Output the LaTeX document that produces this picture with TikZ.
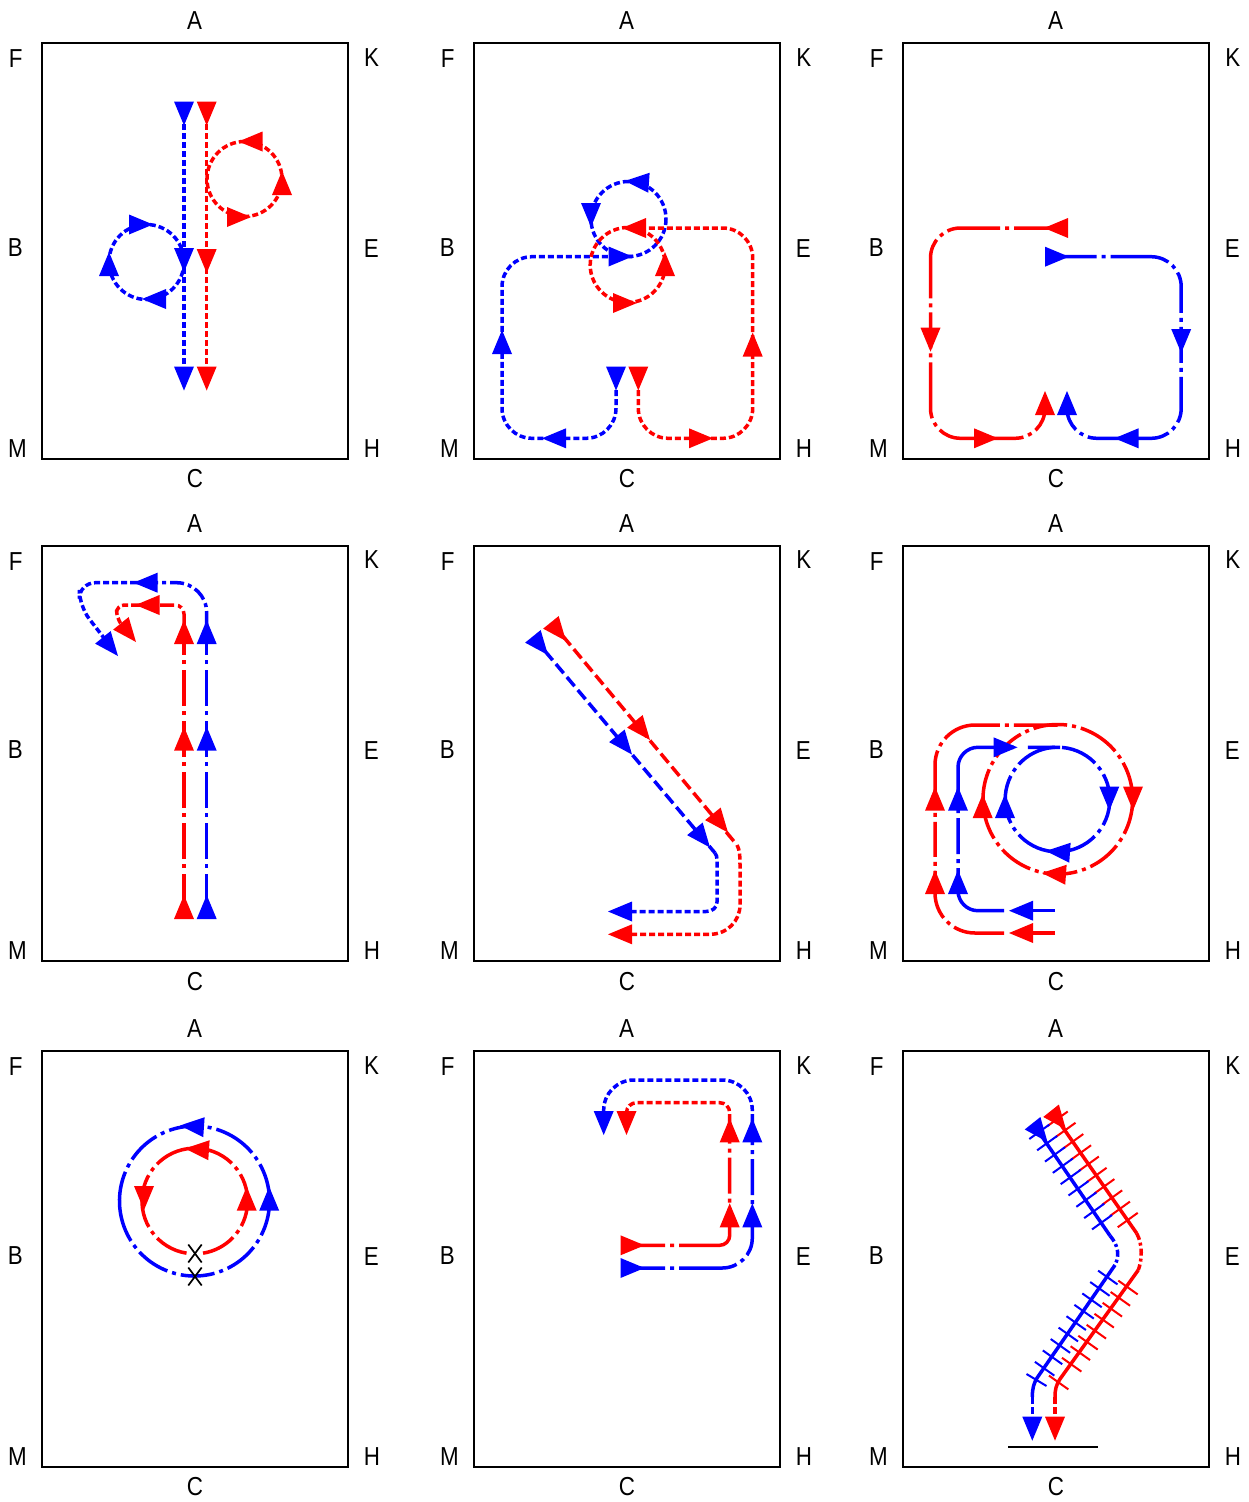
\documentclass[tikz,border=0pt]{standalone}
\usepackage{fontspec}
\setmainfont[FakeStretch=0.86]{Liberation Sans}
\newcommand{\panelframe}[3]{%
  \draw[frameline] (#2,#3) rectangle ++(306.3,415.4);
  \node[lab] (#1A) at (#2+152.5,#3-22.6) {A};
  \node[lab] (#1C) at (#2+153,#3+435.7) {C};
  \node[lab] (#1F) at (#2-26.3,#3+15.4) {F};
  \node[lab] (#1K) at (#2+329.7,#3+14) {K};
  \node[lab] (#1B) at (#2-26.7,#3+204) {B};
  \node[lab] (#1E) at (#2+329.3,#3+205) {E};
  \node[lab] (#1M) at (#2-24.5,#3+405) {M};
  \node[lab] (#1H) at (#2+330,#3+405) {H};
}
\newcommand{\tipat}[4]{\fill[#1,shift={(#2,#3)},rotate=#4] (0,0) -- (-24,10) -- (-24,-10) -- cycle;}
\tikzset{
  frameline/.style={draw=black,line width=2pt},
  lab/.style={inner sep=0pt,font=\fontsize{26}{26}\selectfont,text=black},
  dots/.style={line width=3.5pt,dash pattern=on 6pt off 3pt},
  dashy/.style={line width=3.5pt,dash pattern=on 12pt off 5pt},
  chainline/.style={line width=3.5pt,dash pattern=on 36pt off 5.5pt on 4pt off 5.5pt},
  shortchain/.style={line width=3.5pt,dash pattern=on 14pt off 4pt on 4pt off 4pt},
  full/.style={line width=3.5pt},
  fine/.style={line width=3.5pt,dash pattern=on 7pt off 3pt on 3pt off 3pt},
  finer/.style={line width=3.5pt,dash pattern=on 7pt off 3pt},
  bigring/.style={line width=3.5pt,dash pattern=on 34pt off 5pt on 4pt off 5pt on 74pt off 5pt on 4pt off 5pt on 34pt off 5pt on 4pt off 5pt on 34pt off 5pt on 4pt off 5pt on 34pt off 5pt on 4pt off 5pt on 72pt off 5pt on 4pt off 5pt on 34pt off 5pt on 4pt off 5pt on 34pt off 5pt on 4pt off 5pt},
  hatch/.style={line width=2pt},
  crossmark/.style={line width=1.7pt,draw=black},
  bl/.style={draw=blue},
  rd/.style={draw=red},
}
\begin{document}
\begin{tikzpicture}[x=1pt,y=-1pt]
\useasboundingbox (0,0) rectangle (1249,1502);
\fill[white] (0,0) rectangle (1249,1502);
\panelframe{a}{42}{43.3}
\panelframe{b}{474}{43.3}
\panelframe{c}{903}{43.3}
\panelframe{d}{42}{545.7}
\panelframe{e}{474}{545.7}
\panelframe{f}{903}{545.7}
\panelframe{g}{42}{1051.3}
\panelframe{h}{474}{1051.3}
\panelframe{i}{903}{1051.3}

% ---- panel a
\draw[dots,bl] (184,124) -- (184,366);
\draw[dots,rd] (206.7,124) -- (206.7,366);
\draw[dots,bl] (146.5,262) circle[radius=37.5];
\draw[dots,rd] (244.5,179) circle[radius=37.5];
\tipat{blue}{184}{125.5}{-90}\tipat{blue}{184}{272}{-90}\tipat{blue}{184}{390.5}{-90}
\tipat{red}{206.7}{125.5}{-90}\tipat{red}{206.7}{273}{-90}\tipat{red}{206.7}{390.5}{-90}
\tipat{blue}{153}{224.5}{0}\tipat{blue}{142}{299}{180}\tipat{blue}{109}{252}{90}
\tipat{red}{238.5}{141.5}{180}\tipat{red}{251}{217}{0}\tipat{red}{282}{171}{90}

% ---- panel b
\draw[dots,bl,rounded corners=30pt] (616,390) -- (616,438.3) -- (502,438.3) -- (502,256.7) -- (632,256.7);
\draw[dots,bl] (628.5,219) circle[radius=37.5];
\draw[dots,rd,rounded corners=30pt] (638.3,390) -- (638.3,438.3) -- (752.7,438.3) -- (752.7,228) -- (640,228);
\draw[dots,rd] (627.7,265) circle[radius=37.5];
\tipat{blue}{616}{390.5}{-90}\tipat{red}{638.3}{390.5}{-90}
\tipat{blue}{542}{438.3}{180}\tipat{red}{713}{438.3}{0}
\tipat{blue}{502}{330}{90}\tipat{red}{752.7}{332.5}{90}
\tipat{blue}{632.5}{256.5}{0}\tipat{red}{622}{228}{180}
\tipat{blue}{625}{181}{176}\tipat{blue}{591}{227}{-90}
\tipat{red}{665}{252}{90}\tipat{red}{637}{303}{0}

% ---- panel c
\draw[full,rd,dash pattern=on 52pt off 5pt on 4pt off 5pt on 53pt off 5pt on 4pt off 5pt on 60pt off 5pt on 4pt off 5pt on 36pt off 5pt on 4pt off 5pt on 56pt off 5pt on 4pt off 5pt on 86pt off 5pt on 4pt off 5pt on 90pt off 5pt,rounded corners=30pt] (1066,228) -- (930.5,228) -- (930.5,438.3) -- (1045,438.3) -- (1045,395);
\draw[full,bl,dash pattern=on 50.5pt off 5pt on 4pt off 5pt on 59pt off 5pt on 4pt off 5pt on 41pt off 5pt on 4pt off 5pt on 36pt off 5pt on 4pt off 5pt on 46pt off 5pt on 4pt off 5pt on 82pt off 5pt on 4pt off 5pt on 90pt off 5pt,rounded corners=30pt] (1046,256.7) -- (1181.2,256.7) -- (1181.2,438.3) -- (1067,438.3) -- (1067,395);
\tipat{red}{1044}{228}{180}\tipat{red}{930.5}{351.7}{-90}\tipat{red}{998}{438.3}{0}\tipat{red}{1045}{391}{90}
\tipat{blue}{1069}{256.7}{0}\tipat{blue}{1181.2}{353}{-90}\tipat{blue}{1114.5}{438.3}{180}\tipat{blue}{1067}{391}{90}

% ---- panel d
\draw[chainline,rd,dash phase=44pt] (184,916.7) -- (184,625);
\draw[chainline,bl,dash phase=44pt] (206.7,916.7) -- (206.7,625);
\draw[shortchain,rd,rounded corners=9pt] (184,625) -- (184,605) -- (137,605);
\draw[shortchain,bl,rounded corners=30pt] (206.7,625) -- (206.7,582.7) -- (136,582.7);
\draw[dots,rd,rounded corners=8pt] (137,605) -- (116.5,605) -- (116.5,618) -- (121,624);
\draw[dots,bl,rounded corners=16pt] (136,582.7) -- (79.3,582.7) -- (79.3,606) -- (104,638);
\tipat{red}{184}{895}{90}\tipat{red}{184}{726.7}{90}\tipat{red}{184}{620}{90}
\tipat{blue}{206.7}{895}{90}\tipat{blue}{206.7}{726.7}{90}\tipat{blue}{206.7}{620}{90}
\tipat{red}{135.5}{605}{180}\tipat{blue}{133.5}{582.7}{180}
\tipat{red}{136}{642}{-51}\tipat{blue}{118}{656}{-51}

% ---- panel e
\draw[dashy,rd] (552,623) -- (737,845);
\draw[dashy,bl] (534,638) -- (715,853);
\draw[dots,rd] (737,845) .. controls (739.5,849) and (740,856) .. (740,865) -- (740,905) .. controls (740,921) and (727,934.3) .. (710,934.3) -- (632,934.3);
\draw[dots,bl] (715,853) .. controls (716.5,855) and (717,857) .. (717,860) -- (717,902) .. controls (717,908) and (712,911.5) .. (706,911.5) -- (632,911.5);
\tipat{red}{566}{641}{-51}\tipat{red}{650}{740}{-51}\tipat{red}{728}{832.5}{-51}
\tipat{blue}{548}{655}{-51}\tipat{blue}{632}{754.5}{-51}\tipat{blue}{710}{847.5}{-51}
\tipat{red}{608}{934.3}{180}\tipat{blue}{608}{911.5}{180}

% ---- panel f
\draw[full,bl] (1055,910.7) -- (1030,910.7);
\draw[full,rd] (1055,933) -- (1030,933);
\draw[full,bl,dash pattern=on 80pt off 5pt on 4pt off 5pt on 36pt off 5pt on 4pt off 5pt on 104pt off 14pt on 50pt off 5pt,rounded corners=20pt] (1004,910.7) -- (958,910.7) -- (958,747.3) -- (1060,747.3);
\draw[full,rd,dash pattern=on 51pt off 5pt on 4pt off 5pt on 49pt off 5pt on 4pt off 5pt on 35pt off 5pt on 4pt off 5pt on 57.5pt off 5pt on 4pt off 5pt on 59pt off 5pt on 4pt off 5pt on 60pt off 5pt,rounded corners=40pt] (1004,933) -- (935,933) -- (935,725) -- (1057.5,725);
\draw[full,bl,dash pattern=on 37.3pt off 5pt on 4pt off 5pt on 53pt off 5pt on 4pt off 5pt on 85pt off 5pt on 4pt off 5pt on 49pt off 5pt on 4pt off 5pt on 41pt off 8pt] (1057.5,799.5) ++(-85:52.3) arc[start angle=-85,delta angle=355,radius=52.3];
\draw[bigring,rd] (1057.8,799.3) ++(-66:74.8) arc[start angle=-66,delta angle=360,radius=74.8];
\tipat{blue}{1009}{910.7}{180}\tipat{red}{1009}{933}{180}
\tipat{blue}{958}{870}{90}\tipat{red}{935}{870}{90}
\tipat{blue}{958}{786.7}{90}\tipat{red}{935}{786.7}{90}
\tipat{blue}{1017.5}{747.3}{0}
\tipat{blue}{1109.3}{810.5}{-90}\tipat{red}{1133}{810.5}{-90}
\tipat{blue}{1046}{851}{176}\tipat{red}{1042}{873}{176}
\tipat{blue}{1005}{794}{90}\tipat{red}{982.7}{794}{90}

% ---- panel g
\draw[bigring,bl] (194.5,1201) ++(-66:75) arc[start angle=-66,delta angle=360,radius=75];
\draw[full,rd,dash pattern=on 33.5pt off 5pt on 4pt off 5pt on 54pt off 5pt on 4pt off 5pt on 83pt off 5pt on 4pt off 5pt on 54pt off 5pt on 4pt off 5pt on 40pt off 5pt] (194.8,1201) ++(99:52.8) arc[start angle=99,delta angle=342,radius=52.8];
\tipat{blue}{180}{1125.5}{176}\tipat{blue}{269.2}{1186.7}{90}
\tipat{red}{185}{1148.5}{176}\tipat{red}{246.7}{1186.7}{90}\tipat{red}{144}{1210}{-90}
\coordinate (gx1) at (195,1253.5);
\coordinate (gx2) at (195,1276.5);
\draw[crossmark] ([shift={(-6.7,-9)}]gx1) -- ([shift={(6.7,9)}]gx1) ([shift={(6.7,-9)}]gx1) -- ([shift={(-6.7,9)}]gx1);
\draw[crossmark] ([shift={(-6.7,-9)}]gx2) -- ([shift={(6.7,9)}]gx2) ([shift={(6.7,-9)}]gx2) -- ([shift={(-6.7,9)}]gx2);

% ---- panel h
\draw[full,rd,dash pattern=on 43.2pt off 5pt on 4pt off 5pt on 83.7pt off 5pt on 4pt off 5pt on 36pt off 5pt on 4pt off 5pt on 50pt off 5pt,rounded corners=10pt] (622,1245.3) -- (729.7,1245.3) -- (729.7,1120);
\draw[full,bl,dash pattern=on 43.2pt off 5pt on 4pt off 5pt on 58pt off 5pt on 4pt off 5pt on 47pt off 5pt on 4pt off 5pt on 36pt off 5pt on 4pt off 5pt on 50pt off 5pt,rounded corners=30pt] (622,1268) -- (752.3,1268) -- (752.3,1120);
\draw[dots,rd,rounded corners=10pt] (729.7,1120) -- (729.7,1102.7) -- (626.5,1102.7) -- (626.5,1113);
\draw[dots,bl,rounded corners=30pt] (752.3,1120) -- (752.3,1080) -- (603.7,1080) -- (603.7,1113);
\tipat{red}{644.5}{1245.3}{0}\tipat{blue}{644.5}{1268}{0}
\tipat{red}{729.7}{1203.3}{90}\tipat{blue}{752.3}{1203.3}{90}
\tipat{red}{729.7}{1118.3}{90}\tipat{blue}{752.3}{1118.3}{90}
\tipat{red}{626.5}{1135}{-90}\tipat{blue}{603.7}{1135}{-90}

% ---- panel i
\draw[full,rd] (1052,1112) -- (1136.7,1233.3);
\draw[fine,rd] (1136.7,1233.3) .. controls (1143,1245) and (1142,1260) .. (1138.3,1270);
\draw[full,rd] (1138.3,1270) -- (1060,1379) .. controls (1056,1385) and (1055,1390) .. (1055,1397);
\draw[finer,rd] (1055,1397) -- (1055,1417);
\foreach \i in {0,...,9}{\draw[hatch,rd] ({1057.7+\i*7.78-10},{1118.7+\i*11.26+7.2}) -- ({1057.7+\i*7.78+10},{1118.7+\i*11.26-7.2});}
\foreach \cx/\cy in {504/592.5,481/626.5,457/659,432.5/692,409/725,384/758,361/789.5,335/824,296/877.5}{\draw[hatch,rd] ({960+\cx/3-9.7},{1090+\cy/3-6.9}) -- ({960+\cx/3+9.7},{1090+\cy/3+6.9});}
\draw[full,bl] (1034,1125) -- (1110,1235.7);
\draw[fine,bl] (1110,1235.7) .. controls (1118,1245) and (1120,1255) .. (1115,1265);
\draw[full,bl] (1115,1265) -- (1037,1378) .. controls (1034,1383) and (1032.3,1388) .. (1032.3,1397);
\draw[finer,bl] (1032.3,1397) -- (1032.3,1417);
\foreach \i in {0,...,8}{\draw[hatch,bl] ({1039.3+\i*7.84-10},{1131.8+\i*11.3+7.2}) -- ({1039.3+\i*7.84+10},{1131.8+\i*11.3-7.2});}
\foreach \i in {0,...,8}{\draw[hatch,bl] ({1107.8-\i*7.9-9.7},{1277.5+\i*11.4-6.9}) -- ({1107.8-\i*7.9+9.7},{1277.5+\i*11.4+6.9});}
\draw[hatch,bl] (1026.5,1374) -- (1046.5,1386);
\tipat{red}{1066}{1129.5}{-51.5}\tipat{blue}{1047.5}{1142}{-51.5}
\tipat{red}{1055}{1440.7}{-90}\tipat{blue}{1032.3}{1440.7}{-90}
\coordinate (iba) at (1008.3,1446.7);
\coordinate (ibb) at (1098.3,1446.7);
\draw[frameline] (iba) -- (ibb);
\end{tikzpicture}
\end{document}
